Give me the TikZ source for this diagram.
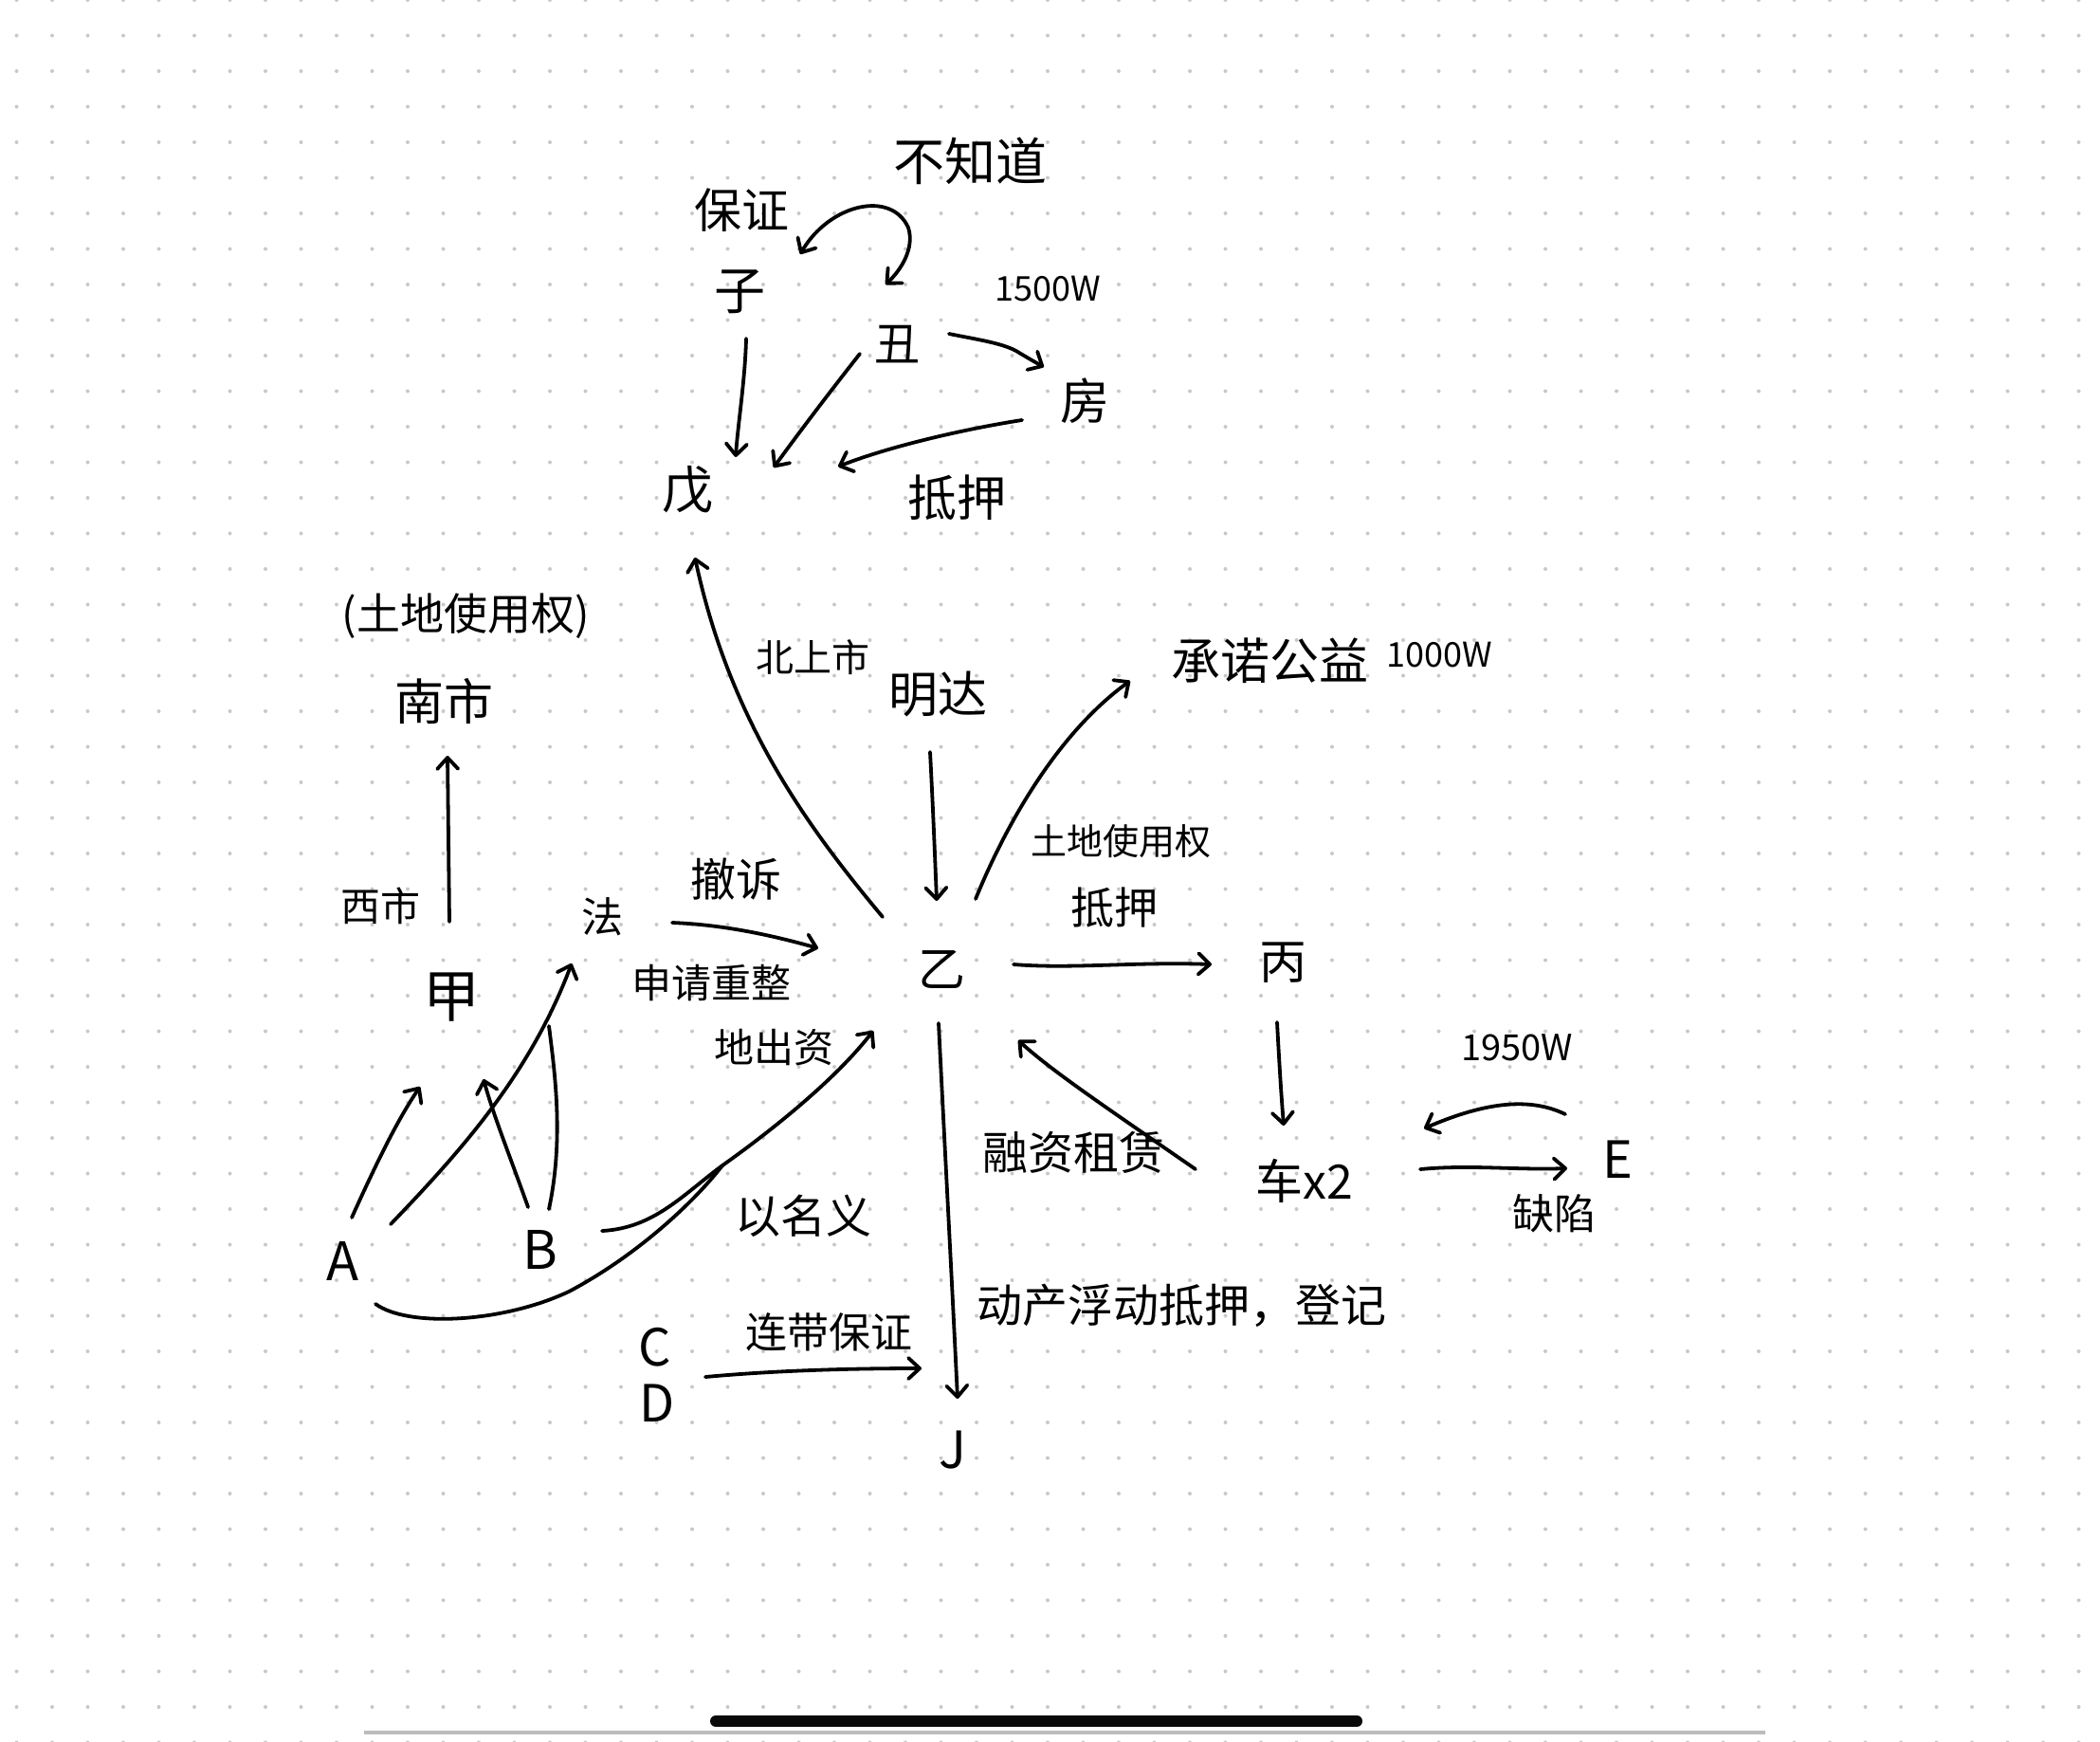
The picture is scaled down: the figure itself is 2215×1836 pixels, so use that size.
\documentclass[tikz,border=0pt]{standalone}
\usepackage{fontspec}
\setmainfont{Noto Sans CJK SC}
\usetikzlibrary{arrows.meta}
\definecolor{dotc}{HTML}{C8C8C8}
\definecolor{barc}{HTML}{0A0A0A}
\definecolor{linec}{HTML}{BDBDBD}
\newcommand\myfs[1]{\fontsize{#1}{#1}\selectfont}
\tikzset{
 ink/.style={line width=1.9pt, line cap=round, line join=round, draw=black},
 arr/.style={ink, -{Straight Barb[length=6pt,width=11pt,round]}},
 darr/.style={ink, {Straight Barb[length=6pt,width=11pt,round]}-{Straight Barb[length=6pt,width=11pt,round]}},
 lbl/.style={inner sep=0pt, text=black},
}
\begin{document}
\begin{tikzpicture}[x=0.5pt,y=-0.5pt]
\useasboundingbox (0,0) rectangle (2215,1836);
\fill[white] (0,0) rectangle (2215,1836);
\foreach \i in {0,...,58}{\foreach \j in {0,...,49}{\fill[dotc] (17.5+37.5*\i,37.5*\j) circle[radius=1pt];}}

% ---------- labels / nodes ----------
\node[lbl,font=\myfs{27pt}] (buzhidao) at (1023,170) {不知道};
\node[lbl,font=\myfs{25pt}] (baozheng) at (782,222) {保证};
\node[lbl,font=\myfs{27pt}] (zi) at (780,308) {子};
\node[lbl,font=\myfs{24pt}] (chou) at (946,363) {丑};
\node[lbl,font=\myfs{18pt}] (w1500) at (1105,305) {1500W};
\node[lbl,font=\myfs{26pt}] (fang) at (1144,423) {房};
\node[lbl,font=\myfs{27pt}] (wu) at (725,517) {戊};
\node[lbl,font=\myfs{26pt}] (diya1) at (1009,525) {抵押};
\node[lbl,font=\myfs{23pt}] (tudi1) at (491,650) {(土地使用权)};
\node[lbl,font=\myfs{26pt}] (nanshi) at (468,740) {南市};
\node[lbl,font=\myfs{20pt}] (beishang) at (857,693) {北上市};
\node[lbl,font=\myfs{26pt}] (mingda) at (989,732) {明达};
\node[lbl,font=\myfs{26pt}] (chengnuo) at (1339,697) {承诺公益};
\node[lbl,font=\myfs{18pt}] (w1000) at (1518,691) {1000W};
\node[lbl,font=\myfs{19pt}] (tudi2) at (1182,887) {土地使用权};
\node[lbl,font=\myfs{23pt}] (diya2) at (1175,957) {抵押};
\node[lbl,font=\myfs{21pt}] (xishi) at (401,955) {西市};
\node[lbl,font=\myfs{22pt}] (fa) at (635,967) {法};
\node[lbl,font=\myfs{24pt}] (chesu) at (776,927) {撤诉};
\node[lbl,font=\myfs{21pt}] (chongzheng) at (750,1037) {申请重整};
\node[lbl,font=\myfs{25pt}] (yi) at (993,1022) {乙};
\node[lbl,font=\myfs{25pt}] (bing) at (1353,1015) {丙};
\node[lbl,font=\myfs{30pt}] (jia) at (476,1052) {甲};
\node[lbl,font=\myfs{21pt}] (dichuzi) at (816,1105) {地出资};
\node[lbl,font=\myfs{19pt}] (w1950) at (1600,1105) {1950W};
\node[lbl,font=\myfs{24pt}] (rongzi) at (1132,1215) {融资租赁};
\node[lbl,font=\myfs{25pt}] (che) at (1376,1245) {车x2};
\node[lbl,font=\myfs{27pt}] (E) at (1706,1223) {E};
\node[lbl,font=\myfs{22pt}] (quexian) at (1639,1280) {缺陷};
\node[lbl,font=\myfs{24pt}] (mingyi) at (847,1282) {以名义};
\node[lbl,font=\myfs{28pt}] (A) at (362,1330) {A};
\node[lbl,font=\myfs{28pt}] (B) at (570,1318) {B};
\node[lbl,font=\myfs{24pt}] (dongchan) at (1246,1377) {动产浮动抵押，登记};
\node[lbl,font=\myfs{27pt}] (C) at (691,1421) {C};
\node[lbl,font=\myfs{27pt}] (D) at (693,1480) {D};
\node[lbl,font=\myfs{22pt}] (liandai) at (874,1405) {连带保证};
\node[lbl,font=\myfs{27pt}] (J) at (1005,1529) {J};

% ---------- connector end points ----------
\coordinate (zi-e) at (844,268);
\coordinate (chou-e) at (934,300);
\coordinate (zi-s) at (787,357);
\coordinate (wu-n1) at (776,482);
\coordinate (chou-sw) at (907,373);
\coordinate (wu-n2) at (816,493);
\coordinate (chou-e2) at (1001,352);
\coordinate (fang-w) at (1101,387);
\coordinate (fang-sw) at (1078,443);
\coordinate (wu-e) at (884,492);
\coordinate (yi-nw) at (931,967);
\coordinate (wu-s) at (733,588);
\coordinate (mingda-s) at (981,793);
\coordinate (yi-n) at (988,950);
\coordinate (yi-ne) at (1029,948);
\coordinate (chengnuo-w) at (1192,718);
\coordinate (yi-e) at (1069,1017);
\coordinate (bing-w) at (1278,1017);
\coordinate (bing-s) at (1347,1078);
\coordinate (che-n) at (1354,1187);
\coordinate (che-nw) at (1261,1233);
\coordinate (yi-se) at (1074,1097);
\coordinate (E-w1) at (1651,1175);
\coordinate (che-e1) at (1502,1190);
\coordinate (che-e2) at (1498,1233);
\coordinate (E-w2) at (1653,1232);
\coordinate (fa-e) at (709,973);
\coordinate (yi-w) at (863,1000);
\coordinate (jia-n) at (474,972);
\coordinate (nanshi-s) at (472,797);
\coordinate (A-n1) at (371,1284);
\coordinate (jia-s1) at (443,1146);
\coordinate (A-n2) at (412,1291);
\coordinate (fa-s) at (603,1016);
\coordinate (B-n2) at (579,1275);
\coordinate (merge1) at (579,1082);
\coordinate (B-n1) at (557,1273);
\coordinate (jia-s2) at (510,1138);
\coordinate (B-e) at (635,1298);
\coordinate (merge2) at (762,1229);
\coordinate (yi-sw) at (921,1087);
\coordinate (A-e) at (396,1375);
\coordinate (CD-e) at (744,1452);
\coordinate (J-w) at (972,1443);
\coordinate (yi-s) at (990,1079);
\coordinate (J-n) at (1010,1475);

% ---------- connectors ----------
\draw[darr] (zi-e) .. controls (875,215) and (940,200) .. (958,240) .. controls (965,262) and (950,285) .. (chou-e);
\draw[arr] (zi-s) .. controls (786,400) and (778,450) .. (wu-n1);
\draw[arr] (chou-sw) .. controls (870,420) and (840,460) .. (wu-n2);
\draw[arr] (chou-e2) .. controls (1030,358) and (1060,362) .. (1075,372) .. controls (1085,378) and (1092,382) .. (fang-w);
\draw[arr] (fang-sw) .. controls (1020,452) and (940,470) .. (wu-e);
\draw[arr] (yi-nw) .. controls (850,870) and (770,760) .. (wu-s);
\draw[arr] (mingda-s) .. controls (984,850) and (986,900) .. (yi-n);
\draw[arr] (yi-ne) .. controls (1065,860) and (1120,770) .. (chengnuo-w);
\draw[arr] (yi-e) .. controls (1130,1022) and (1200,1014) .. (bing-w);
\draw[arr] (bing-s) .. controls (1349,1115) and (1351,1150) .. (che-n);
\draw[arr] (che-nw) .. controls (1170,1170) and (1110,1130) .. (yi-se);
\draw[arr] (E-w1) .. controls (1610,1155) and (1560,1165) .. (che-e1);
\draw[arr] (che-e2) .. controls (1550,1228) and (1600,1234) .. (E-w2);
\draw[arr] (fa-e) .. controls (760,975) and (810,985) .. (yi-w);
\draw[arr] (jia-n) -- (nanshi-s);
\draw[arr] (A-n1) .. controls (400,1220) and (420,1180) .. (jia-s1);
\draw[arr] (A-n2) .. controls (490,1210) and (560,1130) .. (fa-s);
\draw[ink] (B-n2) .. controls (595,1200) and (585,1130) .. (merge1);
\draw[arr] (B-n1) .. controls (540,1225) and (520,1175) .. (jia-s2);
\draw[arr] (B-e) .. controls (690,1295) and (720,1260) .. (merge2) .. controls (810,1195) and (880,1140) .. (yi-sw);
\draw[ink] (A-e) .. controls (430,1400) and (530,1395) .. (600,1362) .. controls (670,1325) and (730,1270) .. (merge2);
\draw[arr] (CD-e) .. controls (820,1445) and (900,1443) .. (J-w);
\draw[arr] (yi-s) .. controls (996,1200) and (1004,1350) .. (J-n);

% ---------- screen furniture ----------
\coordinate (gl1) at (384,1827);
\coordinate (gl2) at (1862,1827);
\coordinate (hb1) at (755,1815);
\coordinate (hb2) at (1431,1815);
\draw[linec, line width=2pt] (gl1) -- (gl2);
\draw[barc, line width=6pt, line cap=round] (hb1) -- (hb2);
\end{tikzpicture}
\end{document}
